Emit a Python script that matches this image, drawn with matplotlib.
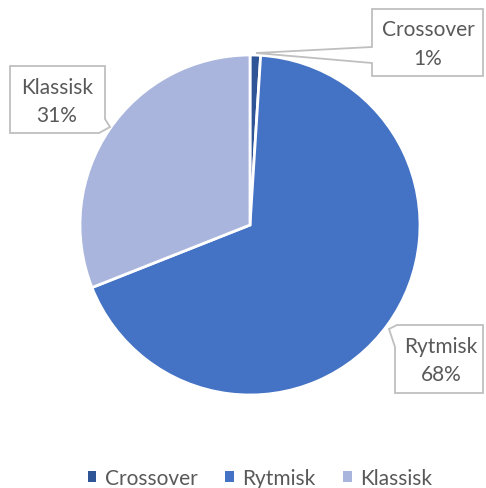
import matplotlib.pyplot as plt
from matplotlib.patches import Polygon, Patch

# data
labels = ["Crossover", "Rytmisk", "Klassisk"]
shares = [1, 68, 31]
colors = ["#2F5597", "#4472C4", "#A9B5DC"]

W, H = 486, 489
fig = plt.figure(figsize=(W / 100, H / 100), dpi=100)
ax = fig.add_axes([0, 0, 1, 1])

# pixel-like coordinates, y pointing up
cx, cy, r = 250, H - 226, 170
ax.pie(shares, colors=colors, startangle=90, counterclock=False,
       center=(cx, cy), radius=r, frame=True,
       wedgeprops=dict(edgecolor="white", linewidth=2))
ax.set_xlim(0, W)
ax.set_ylim(0, H)
ax.set_aspect("equal")
ax.axis("off")

txt_color = "#595959"
fam = ["Lato", "DejaVu Sans"]
font = dict(family=fam, size=15, color=txt_color)


def callout(pts, x, y1, y2, name, pct):
    # pts are in top-down pixel coords
    poly = Polygon([(px, H - py) for px, py in pts], closed=True,
                   facecolor="white", edgecolor="#BFBFBF", linewidth=1.3, zorder=5)
    ax.add_patch(poly)
    ax.text(x, H - y1, name, ha="center", va="center", zorder=6, **font)
    ax.text(x, H - y2, pct, ha="center", va="center", zorder=6, **font)


pct = [f"{v}%" for v in shares]

# Crossover callout (box right of top, pointer to thin slice)
callout([(372, 10), (483, 10), (483, 77), (372, 77), (372, 64), (256, 54),
         (372, 48)], 428, 30, 59, labels[0], pct[0])

# Klassisk callout (pointer from lower-right corner)
callout([(10, 67), (105, 67), (105, 120), (110, 128), (99, 134), (10, 134)],
        57, 88, 116, labels[2], pct[2])

# Rytmisk callout (pointer from upper-left corner)
callout([(397, 326), (483, 326), (483, 394), (395, 394), (395, 348),
         (389, 330)], 441, 347, 375, labels[1], pct[1])

handles = [Patch(facecolor=c, edgecolor="none") for c in colors]
leg = fig.legend(handles, labels, loc="center", bbox_to_anchor=(260 / W, 1 - 479 / H),
                 ncol=3, frameon=False, handlelength=0.4, handleheight=0.4,
                 handletextpad=0.4, columnspacing=1.35,
                 prop=dict(family=fam, size=15))
for t in leg.get_texts():
    t.set_color(txt_color)

fig.savefig("out.png", dpi=100, facecolor="white")
